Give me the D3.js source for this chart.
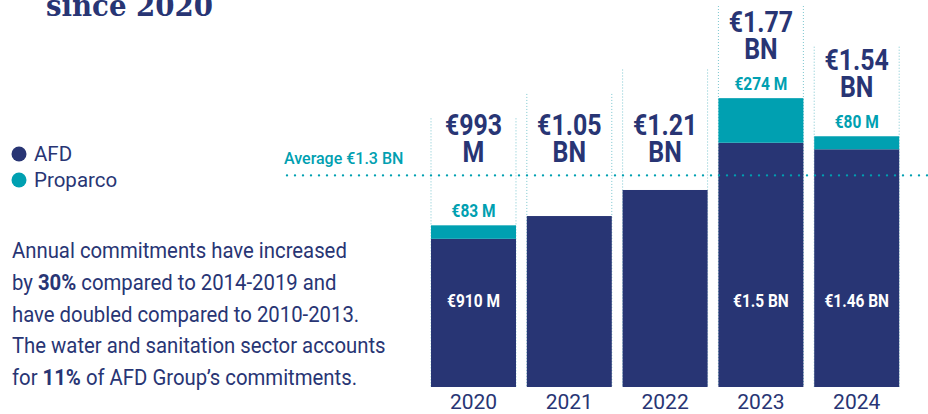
<!DOCTYPE html>
<html lang="en">
<head>
<meta charset="utf-8">
<title>Water and sanitation commitments since 2020</title>
<style>
  body { margin: 0; background: #fff; }
  svg { display: block; font-family: Roboto, sans-serif; }
</style>
<script src="https://d3js.org/d3.v7.min.js"></script>
</head>
<body>
<div id="chart"></div>
<script>
// Data (million €)
const years = ['2020', '2021', '2022', '2023', '2024'];
const afd = [910, 1050, 1210, 1500, 1460];
const proparco = [83, 0, 0, 274, 80];
const totalLabels = [['€993', 'M'], ['€1.05', 'BN'], ['€1.21', 'BN'], ['€1.77', 'BN'], ['€1.54', 'BN']];
const afdLabels = ['€910 M', '', '', '€1.5 BN', '€1.46 BN'];
const proparcoLabels = ['€83 M', '', '', '€274 M', '€80 M'];
const guideTops = [1650, 1800, 1950, 2340, 2090];  // dotted guides above each bar
const average = 1300;
const averageLabel = 'Average €1.3 BN';
const seriesNames = ['AFD', 'Proparco'];

const navy = '#283574';
const teal = '#00a0b1';
const guide = '#7cc6cf';

const W = 928, H = 414;
const svg = d3.select('#chart').append('svg').attr('width', W).attr('height', H);

const x = d3.scaleBand().domain(years).range([425.6, 904.6]).paddingInner(0.113).paddingOuter(0.0565);
const y = d3.scaleLinear().domain([0, 2340]).range([387, 6]);

const data = years.map((yr, i) => ({
  year: yr, afd: afd[i], prop: proparco[i], total: afd[i] + proparco[i],
  tl: totalLabels[i], al: afdLabels[i], pl: proparcoLabels[i], g: guideTops[i]
}));

// condensed bold text helper
function cond(g, tx, ty, str, size, color, sx) {
  return g.append('text')
    .attr('transform', 'translate(' + tx + ',' + ty + ') scale(' + sx + ',1)')
    .attr('text-anchor', 'middle')
    .style('font-weight', 700)
    .style('font-size', size + 'px')
    .attr('fill', color)
    .text(str);
}

// title (cut off at the top)
svg.append('text')
  .attr('x', 46).attr('y', 16)
  .attr('textLength', 167).attr('lengthAdjust', 'spacingAndGlyphs')
  .style('font-family', '"DejaVu Serif", serif')
  .style('font-weight', 700)
  .style('font-size', '30px')
  .attr('fill', navy)
  .text('since 2020');

// guides
const gGuide = svg.append('g');
data.forEach(d => {
  [x(d.year), x(d.year) + x.bandwidth()].forEach(gx => {
    gGuide.append('line')
      .attr('x1', gx).attr('x2', gx)
      .attr('y1', y(d.g)).attr('y2', y(0))
      .attr('stroke', guide).attr('stroke-width', 1)
      .attr('stroke-dasharray', '1,2');
  });
});

// bars
const gBars = svg.append('g');
gBars.selectAll('rect.afd').data(data).join('rect')
  .attr('class', 'afd')
  .attr('x', d => x(d.year)).attr('width', x.bandwidth())
  .attr('y', d => y(d.afd)).attr('height', d => y(0) - y(d.afd))
  .attr('fill', navy);
gBars.selectAll('rect.prop').data(data.filter(d => d.prop > 0)).join('rect')
  .attr('class', 'prop')
  .attr('x', d => x(d.year)).attr('width', x.bandwidth())
  .attr('y', d => y(d.total)).attr('height', d => y(d.afd) - y(d.total))
  .attr('fill', teal);

// average line
svg.append('line')
  .attr('x1', 287).attr('x2', W)
  .attr('y1', y(average)).attr('y2', y(average))
  .attr('stroke', teal).attr('stroke-width', 2.4)
  .attr('stroke-linecap', 'round')
  .attr('stroke-dasharray', '0,8');
svg.append('text')
  .attr('x', 284).attr('y', y(average) - 11)
  .style('font-size', '16px').style('font-weight', 500)
  .attr('fill', teal)
  .text(averageLabel);

// labels
const gLab = svg.append('g');
const sx = 0.86;
data.forEach(d => {
  const cx = x(d.year) + x.bandwidth() / 2;
  const propBase = y(d.total) - 8;
  const line2 = Math.min(y(average) - 13, d.prop > 0 ? propBase - 31 : y(d.total) - 20);
  cond(gLab, cx, line2 - 27, d.tl[0], 29, navy, sx);
  cond(gLab, cx, line2, d.tl[1], 29, navy, sx);
  if (d.pl) cond(gLab, cx, propBase, d.pl, 18, teal, sx);
  if (d.al) cond(gLab, cx, 307, d.al, 18, '#fff', sx);
});

// x axis labels
svg.append('g').selectAll('text').data(years).join('text')
  .attr('x', d => x(d) + x.bandwidth() / 2)
  .attr('y', 409)
  .attr('text-anchor', 'middle')
  .style('font-size', '21px')
  .attr('fill', navy)
  .text(d => d);

// legend
const leg = svg.append('g');
seriesNames.forEach((n, i) => {
  leg.append('circle').attr('cx', 19).attr('cy', 154 + i * 26).attr('r', 7.5)
    .attr('fill', i === 0 ? navy : teal);
  leg.append('text').attr('x', 34).attr('y', 161 + i * 26)
    .style('font-size', '20.5px').attr('fill', navy).text(n);
});

// note
const note = [
  [['Annual commitments have increased', 400]],
  [['by ', 400], ['30%', 700], [' compared to 2014-2019 and', 400]],
  [['have doubled compared to 2010-2013.', 400]],
  [['The water and sanitation sector accounts', 400]],
  [['for ', 400], ['11%', 700], [' of AFD Group’s commitments.', 400]]
];
const gNote = svg.append('g').attr('transform', 'translate(12,0) scale(0.945,1)');
note.forEach((parts, i) => {
  const t = gNote.append('text').attr('x', 0).attr('y', 258 + i * 31.8)
    .style('font-size', '21.5px').attr('fill', navy);
  parts.forEach(p => t.append('tspan').style('font-weight', p[1]).text(p[0]));
});
</script>
</body>
</html>
